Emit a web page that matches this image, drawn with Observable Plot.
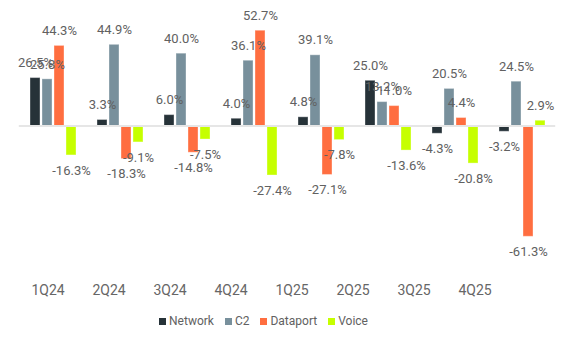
<!DOCTYPE html>
<html><head><meta charset="utf-8">
<script src="https://cdn.jsdelivr.net/npm/d3@7"></script>
<script src="https://cdn.jsdelivr.net/npm/@observablehq/plot@0.6"></script>
<style>
body{margin:0;background:#fff;font-family:Roboto,sans-serif;}
#chart{width:574px;height:344px;overflow:hidden;position:relative;}
#legendwrap{width:527px;display:flex;justify-content:center;}
#legendwrap div{min-height:0 !important;}
#legendwrap span{margin-right:11px !important;}
#legendwrap span:last-child{margin-right:0 !important;}
#legendwrap svg{margin-right:3px !important;}
</style></head><body><div id="chart"></div>
<script>
const quarters = ["1Q24","2Q24","3Q24","4Q24","1Q25","2Q25","3Q25","4Q25"];
const series = ["Network","C2","Dataport","Voice"];
const network = [26.5, 3.3, 6.0, 4.0, 4.8, 25.0, -4.3, -3.2];
const c2 = [25.8, 44.9, 40.0, 36.1, 39.1, 13.2, 20.5, 24.5];
const dataport = [44.3, -18.3, -14.8, 52.7, -27.1, 11.0, 4.4, -61.3];
const voice = [-16.3, -9.1, -7.5, -27.4, -7.8, -13.6, -20.8, 2.9];
const colors = ["#263238","#78909c","#ff6e40","#c6ff00"];

const rows = quarters.flatMap((q, i) =>
  [network, c2, dataport, voice].map((arr, j) => ({quarter: q, series: series[j], value: arr[i]})));
const fmt = d => d.value.toFixed(1) + "%";

const main = Plot.plot({
  width: 574, height: 262,
  marginLeft: 17, marginRight: 17, marginTop: 8, marginBottom: 10,
  style: {fontFamily: "Roboto, sans-serif", background: "transparent", overflow: "visible"},
  fx: {domain: quarters, paddingInner: 0.296, paddingOuter: 0.146, axis: null, label: null},
  x: {domain: series, paddingInner: 0.2, paddingOuter: 0, axis: null},
  y: {domain: [-70, 65], axis: null},
  color: {domain: series, range: colors},
  marks: [
    Plot.barY(rows, {fx: "quarter", x: "series", y: "value", fill: "series", stroke: "white", strokeOpacity: 0.35, strokeWidth: 1}),
    Plot.ruleY(quarters, {fx: d => d, y: () => 0, insetLeft: -10.2, insetRight: -10.2, stroke: "#e6e6e6", strokeWidth: 2}),
    Plot.text(rows.filter(d => d.value >= 0), {fx: "quarter", x: "series", y: "value", text: fmt, dy: -15, fontSize: 13, fill: "#616161"}),
    Plot.text(rows.filter(d => d.value < 0), {fx: "quarter", x: "series", y: "value", text: fmt, dy: 15, fontSize: 13, fill: "#616161"})
  ]
});

const axis = Plot.plot({
  width: 574, height: 52,
  marginLeft: 16, marginRight: 68, marginTop: 4, marginBottom: 0,
  style: {fontFamily: "Roboto, sans-serif", background: "transparent", color: "#616161"},
  x: {type: "band", domain: quarters, padding: 0, axis: null},
  marks: [
    Plot.text(quarters, {x: d => d, frameAnchor: "middle", fontSize: 14, fill: "#666666"})
  ]
});

const legend = Plot.legend({
  color: {domain: series, range: colors},
  swatchSize: 7,
  style: {fontSize: "12px", color: "#616161", fontFamily: "Roboto, sans-serif", marginLeft: "0px"}
});

const chart = document.getElementById("chart");
main.style.display = "block";
axis.style.display = "block";
chart.appendChild(main);
chart.appendChild(axis);
const wrap = document.createElement("div");
wrap.id = "legendwrap";
wrap.appendChild(legend);
chart.appendChild(wrap);
</script>
</body></html>
